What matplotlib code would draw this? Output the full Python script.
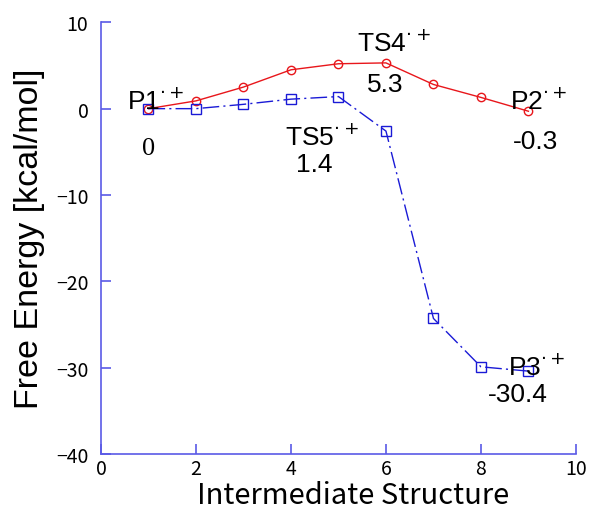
import numpy as np
import matplotlib
matplotlib.use("Agg")
import matplotlib.pyplot as plt

# free energy profiles (kcal/mol)
steps = [1, 2, 3, 4, 5, 6, 7, 8, 9]
path_ts4 = [0.0, 0.9, 2.5, 4.5, 5.2, 5.3, 2.8, 1.3, -0.3]
path_ts5 = [0.0, 0.0, 0.5, 1.1, 1.4, -2.6, -24.3, -29.9, -30.4]

xticks = [0, 2, 4, 6, 8, 10]
yticks = [-40, -30, -20, -10, 0, 10]

species = [r"P1$^{\cdot+}$", r"TS4$^{\cdot+}$", r"P2$^{\cdot+}$", r"TS5$^{\cdot+}$", r"P3$^{\cdot+}$"]
species_xy = [(0.55, 0.0), (5.39, 6.65), (8.61, 0.0), (3.87, -4.2), (8.57, -30.8)]
energies = ["0", "5.3", "-0.3", "1.4", "-30.4"]
energies_xy = [(1.0, -5.2), (5.98, 2.0), (9.14, -4.6), (4.5, -7.2), (8.78, -33.9)]

red = "#e8161b"
blue = "#1a1ad6"
axcol = "#5a5ae6"

fig = plt.figure(figsize=(5.95, 5.1), dpi=100)
ax = fig.add_axes([0.1697, 0.1078, 0.7983, 0.8465])

ax.plot(steps, path_ts4, "-", color=red, lw=1.0, marker="o", ms=6,
        mfc="none", mec=red, mew=1.0)
ax.plot(steps, path_ts5, color=blue, lw=1.0, ls=(0, (12, 3, 1.5, 3)),
        marker="s", ms=7, mfc="none", mec=blue, mew=1.0)

ax.set_xlim(0, 10)
ax.set_ylim(-40, 10)
ax.set_xticks(xticks)
ax.set_yticks(yticks)

for s in ["top", "right"]:
    ax.spines[s].set_visible(False)
for s in ["left", "bottom"]:
    ax.spines[s].set_color(axcol)
    ax.spines[s].set_linewidth(1.2)
ax.tick_params(direction="in", length=7, width=1.2, color=axcol, labelsize=14)
ax.tick_params(axis="x", pad=3)
ax.tick_params(axis="y", pad=9)
for lab in ax.get_xticklabels() + ax.get_yticklabels():
    lab.set_family("Noto Sans CJK JP")

# x label sits right at the bottom edge, as in the original
fig.text(0.593, 6 / 510, "Intermediate Structure", fontsize=21,
         family="Noto Sans CJK JP", ha="center", va="baseline")
ax.set_ylabel("Free Energy [kcal/mol]", fontsize=24.5,
              family="Liberation Sans", labelpad=8)

for name, (x, y) in zip(species, species_xy):
    ax.text(x, y, name, fontsize=19, family="Liberation Sans",
            ha="left", va="baseline")
for e, (x, y) in zip(energies, energies_xy):
    fam = "Liberation Serif" if e == "0" else "Liberation Sans"
    ax.text(x, y, e, fontsize=19, family=fam, ha="center", va="baseline")

fig.savefig("out.png", dpi=100)
